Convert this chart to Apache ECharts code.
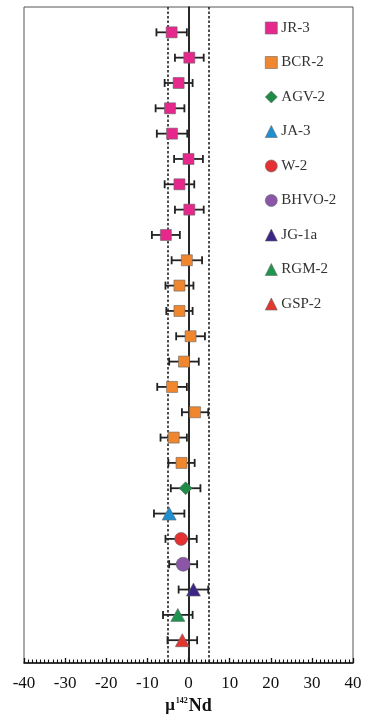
<!DOCTYPE html>
<html><head><meta charset="utf-8">
<script src="https://cdn.jsdelivr.net/npm/echarts@6/dist/echarts.min.js"></script>
<style>html,body{margin:0;padding:0;background:#fff}#c{width:365px;height:723px}</style>
</head><body><div id="c"></div>
<script>
// Data (μ142Nd, ppm) with 2SD error bars
const samples = ['JR-3','BCR-2','AGV-2','JA-3','W-2','BHVO-2','JG-1a','RGM-2','GSP-2'];
const jr3Values   = [-4.1, 0.2, -2.4, -4.5, -4.0, 0.0, -2.2, 0.2, -5.5];
const jr3Errors   = [3.7, 3.5, 3.4, 3.5, 3.7, 3.5, 3.6, 3.5, 3.4];
const bcr2Values  = [-0.4, -2.2, -2.2, 0.5, -1.1, -4.0, 1.6, -3.6, -1.7];
const bcr2Errors  = [3.7, 3.4, 3.2, 3.5, 3.6, 3.6, 3.2, 3.2, 3.2];
const agv2Values  = [-0.7];  const agv2Errors  = [3.6];
const ja3Values   = [-4.7];  const ja3Errors   = [3.7];
const w2Values    = [-1.8];  const w2Errors    = [3.8];
const bhvo2Values = [-1.3];  const bhvo2Errors = [3.4];
const jg1aValues  = [1.2];   const jg1aErrors  = [3.6];
const rgm2Values  = [-2.6];  const rgm2Errors  = [3.6];
const gsp2Values  = [-1.5];  const gsp2Errors  = [3.6];
const xTicks = [-40,-30,-20,-10,0,10,20,30,40];
const refLines = [-5, 0, 5];

const groups = [
  {name:'JR-3',   v:jr3Values,   e:jr3Errors,   color:'#e6288c', symbol:'rect',     size:11},
  {name:'BCR-2',  v:bcr2Values,  e:bcr2Errors,  color:'#f0872f', symbol:'rect',     size:11},
  {name:'AGV-2',  v:agv2Values,  e:agv2Errors,  color:'#1e8c47', symbol:'diamond',  size:[13,13]},
  {name:'JA-3',   v:ja3Values,   e:ja3Errors,   color:'#1f8fd2', symbol:'triangle', size:[14,13]},
  {name:'W-2',    v:w2Values,    e:w2Errors,    color:'#e53131', symbol:'circle',   size:13},
  {name:'BHVO-2', v:bhvo2Values, e:bhvo2Errors, color:'#8b56a8', symbol:'circle',   size:14},
  {name:'JG-1a',  v:jg1aValues,  e:jg1aErrors,  color:'#3b2586', symbol:'triangle', size:[14,13]},
  {name:'RGM-2',  v:rgm2Values,  e:rgm2Errors,  color:'#1f9650', symbol:'triangle', size:[14,13]},
  {name:'GSP-2',  v:gsp2Values,  e:gsp2Errors,  color:'#e3362f', symbol:'triangle', size:[14,13]}
];

let idx = 0;
const errData = [];
const series = [];
groups.forEach(g => {
  const pts = g.v.map((v,i) => { idx++; errData.push([v - g.e[i], v + g.e[i], idx]); return [v, idx]; });
  series.push({
    name: g.name, type:'scatter', data: pts, symbol: g.symbol, symbolSize: g.size,
    itemStyle:{color:g.color, borderColor:'#666', borderWidth:0.6, opacity:1}, z:5
  });
});

series.unshift({
  type:'custom', name:'err', silent:true, z:3,
  data: errData,
  renderItem: function(params, api){
    const y = api.value(2);
    const a = api.coord([api.value(0), y]);
    const b = api.coord([api.value(1), y]);
    const h = 4;
    const st = {stroke:'#222', lineWidth:1.8};
    return {type:'group', children:[
      {type:'line', shape:{x1:a[0],y1:a[1],x2:b[0],y2:b[1]}, style:st},
      {type:'line', shape:{x1:a[0],y1:a[1]-h,x2:a[0],y2:a[1]+h}, style:st},
      {type:'line', shape:{x1:b[0],y1:b[1]-h,x2:b[0],y2:b[1]+h}, style:st}
    ]};
  }
});
series.unshift({
  type:'line', name:'ref', data:[], silent:true, z:2,
  markLine:{
    symbol:'none', silent:true, label:{show:false}, animation:false,
    data: refLines.map(x => ({xAxis:x, lineStyle: x===0 ? {color:'#222', width:1.6, type:'solid'} : {color:'#222', width:1.6, type:[2.5,2]}}))
  }
});

const chart = echarts.init(document.getElementById('c'), null, {renderer:'canvas'});
chart.setOption({
  animation:false,
  backgroundColor:'#fff',
  grid:{left:24, right:12, top:7, bottom:60, show:true, borderColor:'#555', borderWidth:1},
  xAxis:{
    type:'value', min:xTicks[0], max:xTicks[xTicks.length-1], interval:10,
    axisLine:{show:true, onZero:false, lineStyle:{color:'#111', width:1.6}},
    axisTick:{show:true, inside:true, length:5, lineStyle:{color:'#111', width:1.3}},
    minorTick:{show:true, splitNumber:10, length:3.5, lineStyle:{color:'#111', width:1.1}},
    splitLine:{show:false},
    axisLabel:{color:'#111', fontFamily:'Liberation Serif', fontSize:17, margin:12},
    name:'{mu|μ}{sup|142}{nd|Nd}', nameLocation:'middle', nameGap:31,
    nameTextStyle:{rich:{
      mu:{fontFamily:'Liberation Serif', fontWeight:'bold', fontSize:17, color:'#111'},
      sup:{fontFamily:'Liberation Serif', fontWeight:'bold', fontSize:8, color:'#111', verticalAlign:'top', padding:[0,1,7,1]},
      nd:{fontFamily:'Liberation Serif', fontWeight:'bold', fontSize:18, color:'#111'}
    }}
  },
  yAxis:{
    type:'value', min:0, max:25.9, inverse:true,
    axisLine:{show:true, lineStyle:{color:'#111', width:1.6}},
    axisTick:{show:false}, axisLabel:{show:false}, splitLine:{show:false}
  },
  legend:{
    data: samples, orient:'vertical', left:260, top:15.5, itemWidth:12, itemHeight:12, itemGap:19.5,
    itemStyle:{borderWidth:0.6, borderColor:'#666'},
    textStyle:{fontFamily:'Liberation Serif', fontSize:15, color:'#333', padding:[0,0,0,-1]},
    selectedMode:false
  },
  series: series
});
</script></body></html>
